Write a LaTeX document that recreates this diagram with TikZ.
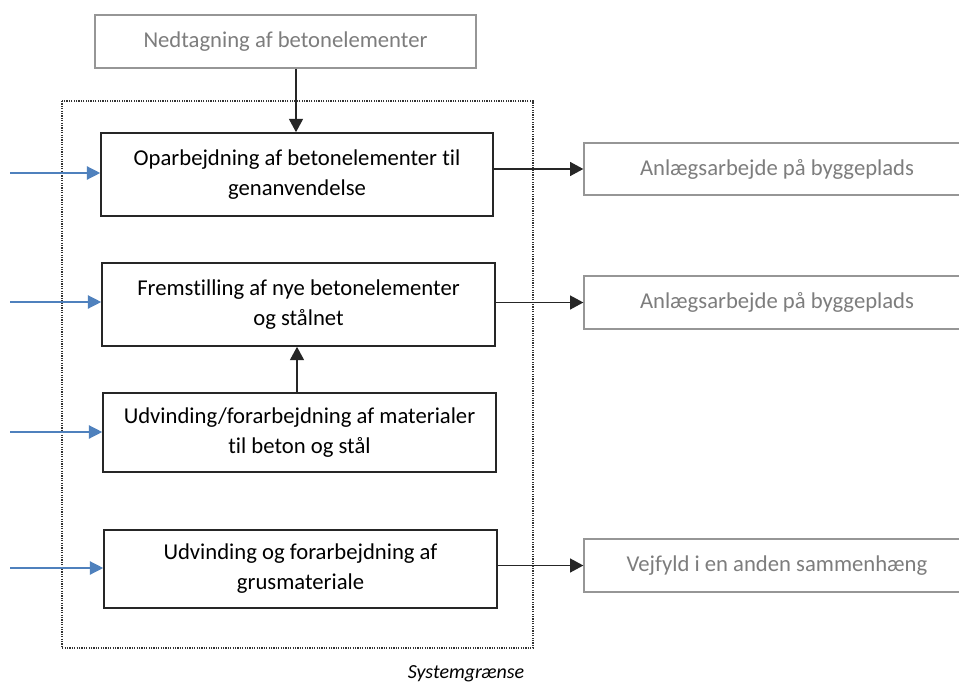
\documentclass[tikz,border=0pt]{standalone}
\usepackage{fontspec}
\setmainfont{Carlito}[Ligatures={NoCommon}]
\usetikzlibrary{arrows.meta}
\definecolor{ogray}{RGB}{150,150,150}
\definecolor{tgray}{RGB}{125,125,125}
\definecolor{oblue}{RGB}{79,129,189}
\tikzset{
  sz/.style 2 args={minimum width=#1*0.75pt, minimum height=#2*0.75pt},
  blackbox/.style={draw=black!85, line width=1.2pt, inner sep=0pt, align=center, font=\fontsize{17}{22.5}\selectfont},
  graybox/.style={draw=ogray, line width=1pt, inner sep=0pt, align=center, text=tgray, font=\fontsize{17}{22.5}\selectfont},
  flow/.style={draw=black!85, line width=1.1pt, -{Triangle[length=10pt,width=10.5pt]}},
  inflow/.style={draw=oblue, line width=1pt, -{Triangle[length=10pt,width=10pt]}},
}
\begin{document}
\begin{tikzpicture}[x=0.75pt,y=-0.75pt]
\clip (0,0) rectangle (959,681);
\fill[white] (0,0) rectangle (959,681);
% system boundary
\draw[line width=0.9pt, dash pattern=on 0.9pt off 0.9pt, black!80] (62,101) rectangle (533,648);
\node[font=\itshape\fontsize{15}{18}\selectfont, anchor=base] (sys) at (466,678) {Systemgrænse};
% top box
\node[graybox, sz={381}{53}] (ned) at (285.5,41.5) {Nedtagning af betonelementer};
% main boxes
\node[blackbox, sz={392}{83}] (b1) at (297,174.5) {Oparbejdning af betonelementer til\\genanvendelse};
\node[blackbox, sz={393}{83}] (b2) at (298.5,304.5) {Fremstilling af nye betonelementer\\og stålnet};
\node[blackbox, sz={393}{79}] (b3) at (299.5,432.5) {Udvinding/forarbejdning af materialer\\til beton og stål};
\node[blackbox, sz={393}{78}] (b4) at (300.5,569) {Udvinding og forarbejdning af\\grusmateriale};
% right boxes
\node[graybox, sz={386}{52}] (r1) at (777,169) {Anlægsarbejde på byggeplads};
\node[graybox, sz={386}{53}] (r2) at (777,302.5) {Anlægsarbejde på byggeplads};
\node[graybox, sz={386}{53}] (r3) at (777,565.5) {Vejfyld i en anden sammenhæng};
% inputs
\coordinate (i1) at (10,173);
\coordinate (i2) at (10,302);
\coordinate (i3) at (10,432);
\coordinate (i4) at (10,568);
\draw[inflow] (i1) -- (i1 -| b1.west);
\draw[inflow] (i2) -- (i2 -| b2.west);
\draw[inflow] (i3) -- (i3 -| b3.west);
\draw[inflow] (i4) -- (i4 -| b4.west);
% flows
\draw[flow] (ned.south -| 296,0) -- (b1.north -| 296,0);
\draw[flow] (b3.north -| 297,0) -- (b2.south -| 297,0);
\draw[flow] (b1.east |- r1.west) -- (r1.west);
\draw[flow] (b2.east |- r2.west) -- (r2.west);
\draw[flow] (b4.east |- r3.west) -- (r3.west);
\end{tikzpicture}
\end{document}
